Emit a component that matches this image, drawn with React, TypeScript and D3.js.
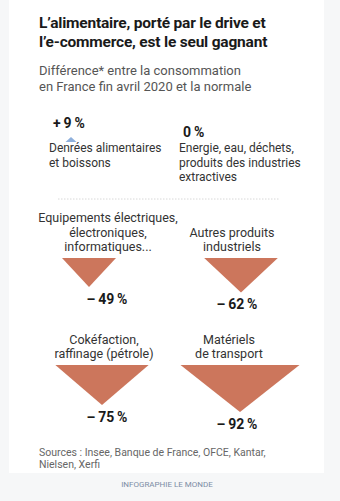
import React from "react";
import * as d3 from "d3";

// ---- Data ----
const titleLines = ["L\u2019alimentaire, porté par le drive et", "l\u2019e-commerce, est le seul gagnant"];
const subtitleLines = ["Différence* entre la consommation", "en France fin avril 2020 et la normale"];
const topCategories = [
  ["Denrées alimentaires", "et boissons"],
  ["Energie, eau, déchets,", "produits des industries", "extractives"],
];
const topValues = [9, 0];
const categories = [
  ["Equipements électriques,", "électroniques,", "informatiques..."],
  ["Autres produits", "industriels"],
  ["Cokéfaction,", "raffinage (pétrole)"],
  ["Matériels", "de transport"],
];
const values = [-49, -62, -75, -92];
const sourceLines = ["Sources :  Insee, Banque de France, OFCE, Kantar,", "Nielsen, Xerfi"];
const credit = "INFOGRAPHIE LE MONDE";

// ---- Layout ----
const W = 340, H = 501;
const FONT = "Roboto, 'Liberation Sans', Arial, sans-serif";
const SP = "\u2009";
const fmt = (v: number) =>
  v > 0 ? "+" + SP + v + SP + "%" : v === 0 ? "0" + SP + "%" : "\u2013" + SP + Math.abs(v) + SP + "%";

// triangle size scales (magnitude -> px)
const widthScale = d3.scaleLinear().domain([9, 49, 92]).range([11, 54, 119]);
const heightScale = d3.scaleLinear().domain([9, 49, 92]).range([5, 29, 47]);

const colScale = d3.scaleBand<number>().domain([0, 1]).range([40, 300]);
const rowTop = [258, 365]; // triangle base line per row
const labelLineH = 14.5;
const triNudge = [-16, 6, -3, 5];
const labelNudge = [3, -3, -1, -6];

const tri = (cx: number, top: number, v: number) => {
  const m = Math.abs(v);
  const w = widthScale(m), h = heightScale(m);
  const line = d3.line();
  if (v < 0) return line([[cx - w / 2, top], [cx + w / 2, top], [cx, top + h]])! + "Z";
  return line([[cx - w / 2, top], [cx + w / 2, top], [cx, top - h]])! + "Z";
};

export default function App() {
  const colCenter = (i: number) => colScale(i)! + colScale.bandwidth() / 2;
  return (
    <svg width={W} height={H} style={{ position: "absolute", left: 0, top: 0 }} fontFamily={FONT}>
      <rect x={0} y={0} width={W} height={H} fill="#f6f7f8" />
      <rect x={9} y={0} width={315} height={473} fill="#ffffff" />
      {titleLines.map((t, i) => (
        <text key={t} x={39} y={28 + i * 18.5} fontSize={15.5} fontWeight={700} fill="#1a1a1a" letterSpacing={-0.2}>{t}</text>
      ))}
      {subtitleLines.map((t, i) => (
        <text key={t} x={39} y={75 + i * 15.5} fontSize={13} fill="#555">{t}</text>
      ))}
      {/* top row */}
      {topCategories.map((lines, i) => {
        const x = i === 0 ? 49 : 179;
        const v = topValues[i];
        return (
          <g key={i}>
            <text x={x + 4} y={i === 0 ? 128 : 137} fontSize={14} fontWeight={700} fill="#1a1a1a">{fmt(v)}</text>
            {v > 0 && <path d={tri(71, 142, v)} fill="#8fb0dc" />}
            {lines.map((l, j) => (
              <text key={l} x={x} y={152 + j * labelLineH} fontSize={12} fill="#333">{l}</text>
            ))}
          </g>
        );
      })}
      <line x1={58} x2={280} y1={199} y2={199} stroke="#d8d8d8" strokeWidth={1} strokeDasharray="1.5,1.5" />
      {/* down triangles */}
      {values.map((v, i) => {
        const col = i % 2, row = Math.floor(i / 2);
        const cx = colCenter(col);
        const top = rowTop[row];
        const lines = categories[i];
        const h = heightScale(Math.abs(v));
        return (
          <g key={i}>
            {lines.map((l, j) => (
              <text key={l} x={cx + labelNudge[i]} y={top - 7 - (lines.length - 1 - j) * labelLineH} textAnchor="middle" fontSize={12.5} fill="#333">{l}</text>
            ))}
            <path d={tri(cx + triNudge[i], top, v)} fill="#cc765c" />
            <text x={cx + 2} y={top + h + 17} textAnchor="middle" fontSize={14} fontWeight={700} fill="#1a1a1a">{fmt(v)}</text>
          </g>
        );
      })}
      {sourceLines.map((t, i) => (
        <text key={t} x={39} y={456 + i * 12} fontSize={10.5} fill="#666">{t}</text>
      ))}
      <text x={167} y={487} textAnchor="middle" fontSize={8} fill="#7d8da5">{credit}</text>
    </svg>
  );
}
